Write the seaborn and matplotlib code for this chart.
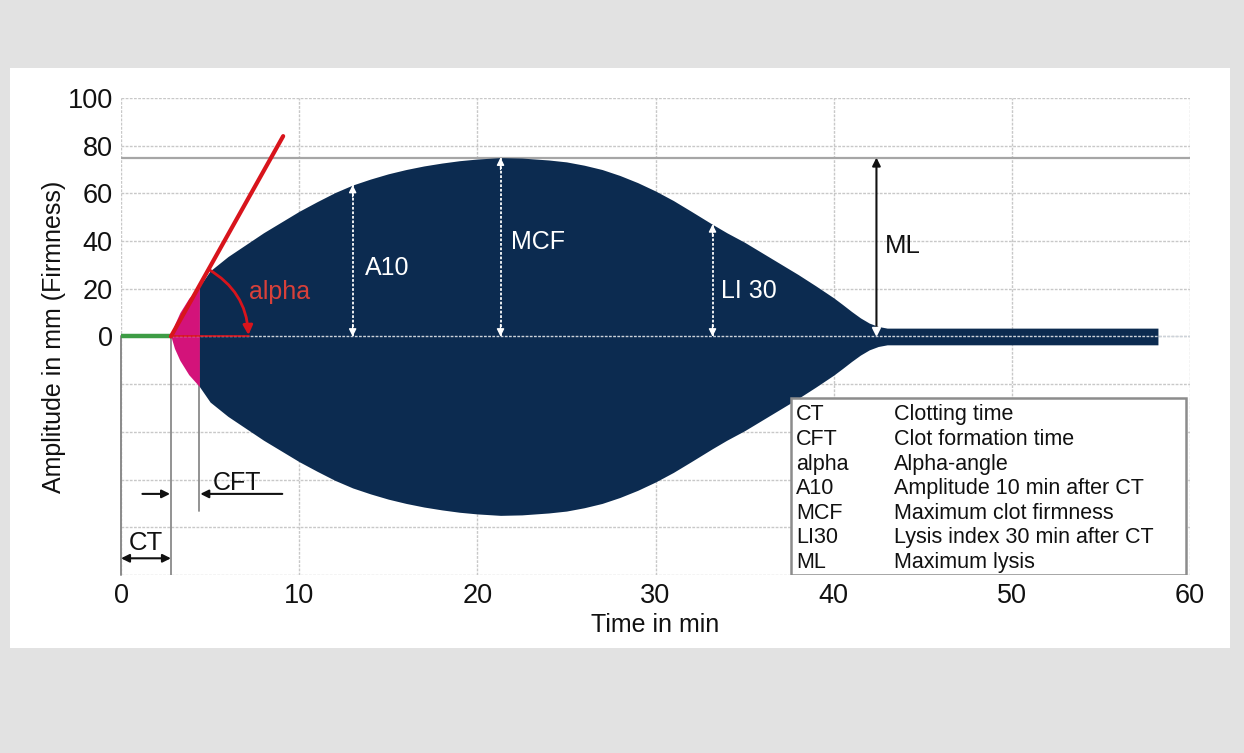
import numpy as np
import pandas as pd
import matplotlib.pyplot as plt
import seaborn as sns
from matplotlib.patches import Rectangle

# clot curve, amplitude in mm over time in min
time_min = [2.8, 3.0, 3.3, 3.8, 4.4, 5.0, 5.5, 6.0, 7.0, 8.0, 9.0, 10.0, 11.0, 12.0,
            13.0, 14.0, 15.0, 16.0, 17.0, 18.0, 19.0, 20.0, 21.3, 22.5, 24.0, 25.0,
            26.0, 27.0, 28.0, 29.0, 30.0, 31.0, 32.0, 33.2, 34.0, 35.0, 36.0, 37.0,
            38.0, 39.0, 40.0, 40.5, 41.0, 41.5, 42.0, 42.5, 43.0, 58.2]
amplitude = [0, 5, 10, 16, 21, 27.5, 30.5, 33.5, 38.5, 43.5, 48, 52.5, 56.5, 60.3,
             63.5, 66, 68.2, 70, 71.5, 72.7, 73.7, 74.4, 75, 74.8, 74, 73.2,
             71.8, 70, 67.5, 64.5, 61, 57, 52.5, 47, 43.5, 39.5, 35, 30.5,
             26, 21.2, 16.2, 13.4, 10.5, 7.8, 5.6, 4.2, 3.5, 3.5]

# key parameters
ct = 2.8                  # clotting time
cft_end = 4.4             # CT + CFT (amplitude 20 mm)
a10_time, a10 = 13.0, 63.5
mcf_time, mcf = 21.3, 75
li30_time, li30 = 33.2, 47
ml_time, band = 42.4, 3.5
tangent_end = (9.1, 84)   # alpha tangent

abbrev = ['CT', 'CFT', 'alpha', 'A10', 'MCF', 'LI30', 'ML']
desc = ['Clotting time', 'Clot formation time', 'Alpha-angle',
        'Amplitude 10 min after CT', 'Maximum clot firmness',
        'Lysis index 30 min after CT', 'Maximum lysis']

xticks = [0, 10, 20, 30, 40, 50, 60]
ygrid = [-100, -80, -60, -40, -20, 0, 20, 40, 60, 80, 100]

navy = '#0c2b50'
pink = '#d3137a'
red = '#d8141c'
green = '#3d9c45'

sns.set_theme(style='white')
plt.rcParams['font.family'] = ['Liberation Sans', 'DejaVu Sans']

fig = plt.figure(figsize=(12.44, 7.53), dpi=100)
fig.patch.set_facecolor('#e2e2e2')
fig.add_artist(Rectangle((0.008, 0.139), 0.981, 0.771, transform=fig.transFigure,
                         facecolor='white', edgecolor='none', zorder=-1))
ax = fig.add_axes([0.0973, 0.2364, 0.8593, 0.6335])

ax.set_xlim(0, 60)
ax.set_ylim(-100, 100)
ax.set_xticks(xticks)
ax.set_yticks(ygrid)
ax.set_yticklabels([str(v) if v >= 0 else '' for v in ygrid])
ax.grid(True, color='#c8c8c8', linestyle=(0, (2, 1)), linewidth=1.0)
ax.set_axisbelow(True)
for s in ax.spines.values():
    s.set_visible(False)
ax.tick_params(length=0, labelsize=19.5, pad=6, labelcolor='#111111')
ax.set_xlabel('Time in min', fontsize=18, labelpad=3, color='#111111')
ax.set_ylabel('Amplitude in mm (Firmness)', fontsize=18, labelpad=1, color='#111111')

# reference lines
ax.axhline(mcf, color='#a6a6a6', lw=1.6, zorder=1)
ax.plot([0, 0], [-100, 0], color='#8a8a8a', lw=1.4, zorder=1, clip_on=False)
ax.plot([ct, ct], [-100, 0], color='#8a8a8a', lw=1.3, zorder=1)
ax.plot([cft_end, cft_end], [0, -73], color='#8a8a8a', lw=1.3, zorder=1)

# curve
t = np.array(time_min)
a = np.array(amplitude)
ax.fill_between(t, -a, a, where=t <= cft_end, color=pink, lw=0, zorder=2)
ax.fill_between(t, -a, a, where=t >= cft_end, color=navy, lw=0, zorder=2)
ax.axhline(0, color='#cdd3da', lw=1, linestyle=(0, (2, 1)), zorder=3)

sns.lineplot(x=[0, ct], y=[0, 0], color=green, lw=3.2, ax=ax, zorder=4)
sns.lineplot(x=[ct, tangent_end[0]], y=[0, tangent_end[1]], color=red, lw=3, ax=ax, zorder=4)
ax.plot([ct, 7.2], [0, 0], color=red, lw=1.2, zorder=4)
ax.annotate('', xy=(7.15, 0.6), xytext=(4.9, 28.2),
            arrowprops=dict(arrowstyle='-|>', color=red, lw=2, mutation_scale=14,
                            connectionstyle='arc3,rad=-0.27', shrinkA=0, shrinkB=0),
            zorder=5)
ax.text(7.2, 18.7, 'alpha', color='#d8403a', fontsize=18, va='center', zorder=5)

# white dotted markers
for x, top in [(a10_time, a10), (mcf_time, mcf), (li30_time, li30)]:
    ax.plot([x, x], [0, top], color='white', lw=1.3, linestyle=(0, (1.5, 1)), zorder=4)
    ax.annotate('', xy=(x, top), xytext=(x, top - 5),
                arrowprops=dict(arrowstyle='-|>', color='white', lw=1, mutation_scale=11,
                                shrinkA=0, shrinkB=0), zorder=5)
    ax.annotate('', xy=(x, 0), xytext=(x, 5),
                arrowprops=dict(arrowstyle='-|>', color='white', lw=1, mutation_scale=11,
                                shrinkA=0, shrinkB=0), zorder=5)
ax.text(13.7, 28.7, 'A10', color='white', fontsize=18, va='center', zorder=5)
ax.text(21.9, 39.5, 'MCF', color='white', fontsize=18, va='center', zorder=5)
ax.text(33.7, 19, 'LI 30', color='white', fontsize=18, va='center', zorder=5)

# ML arrow
ax.annotate('', xy=(ml_time, mcf), xytext=(ml_time, band),
            arrowprops=dict(arrowstyle='-|>', color='#111111', lw=1.5, mutation_scale=12,
                            shrinkA=0, shrinkB=0), zorder=5)
ax.plot([ml_time], [2.2], marker='v', color='white', markersize=6, zorder=6)
ax.text(42.9, 38, 'ML', color='#111111', fontsize=18.5, va='center', zorder=5)

# CT / CFT markers
ax.annotate('', xy=(0, -93), xytext=(ct, -93),
            arrowprops=dict(arrowstyle='<|-|>', color='#111111', lw=1.5, mutation_scale=12,
                            shrinkA=0, shrinkB=0), zorder=5)
ax.text(ct / 2, -86.5, 'CT', color='#111111', fontsize=18.5, ha='center', va='center')
ax.annotate('', xy=(ct - 0.05, -66), xytext=(1.2, -66),
            arrowprops=dict(arrowstyle='-|>', color='#111111', lw=1.5, mutation_scale=12,
                            shrinkA=0, shrinkB=0), zorder=5)
ax.annotate('', xy=(cft_end + 0.05, -66), xytext=(9.05, -66),
            arrowprops=dict(arrowstyle='-|>', color='#111111', lw=1.5, mutation_scale=12,
                            shrinkA=0, shrinkB=0), zorder=5)
ax.text(6.5, -61.5, 'CFT', color='#111111', fontsize=18, ha='center', va='center')

# legend box
ax.add_patch(Rectangle((37.6, -100), 22.2, 74, facecolor='white', edgecolor='#8c8c8c',
                       lw=1.8, zorder=6))
for i, (ab, de) in enumerate(zip(abbrev, desc)):
    y = -32.9 - 10.3 * i
    ax.text(37.9, y, ab, fontsize=15.5, va='center', color='#111111', zorder=7)
    ax.text(43.4, y, de, fontsize=15.5, va='center', color='#111111', zorder=7)

plt.savefig('out.png', dpi=100, facecolor=fig.get_facecolor())
